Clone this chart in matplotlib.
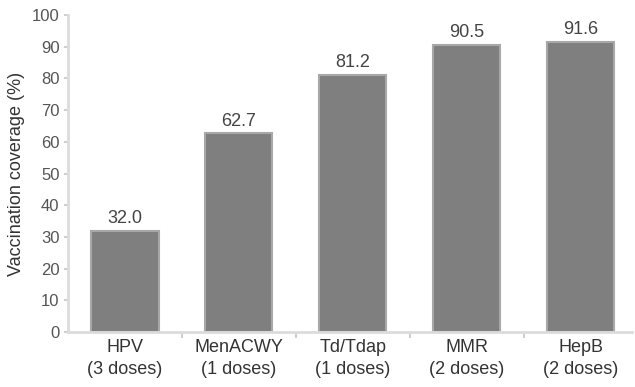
import matplotlib
matplotlib.use("Agg")
import matplotlib.pyplot as plt
import numpy as np

vaccines = ["HPV\n(3 doses)", "MenACWY\n(1 doses)", "Td/Tdap\n(1 doses)", "MMR\n(2 doses)", "HepB\n(2 doses)"]
coverage = [32.0, 62.7, 81.2, 90.5, 91.6]
y_ticks = [0, 10, 20, 30, 40, 50, 60, 70, 80, 90, 100]

plt.rcParams["font.family"] = ["Liberation Sans", "DejaVu Sans"]

fig = plt.figure(figsize=(6.35, 3.87), dpi=100)
ax = fig.add_axes([0.107, 0.142, 0.888, 0.819])

x = np.arange(len(vaccines))
bars = ax.bar(x, coverage, width=0.59, color="#7f7f80", edgecolor="#a8a8a8", linewidth=1.5, zorder=2)

for xi, v in zip(x, coverage):
    ax.text(xi, v + 1.2, f"{v:.1f}", ha="center", va="bottom", fontsize=13, color="#444444")

ax.set_xlim(-0.5, 4.45)
ax.set_ylim(0, 100)
ax.set_yticks(y_ticks)
ax.set_xticks(x)
ax.set_xticklabels(vaccines, fontsize=13, color="#333333", linespacing=1.4)
ax.set_xticks(x[:-1] + 0.5, minor=True)
ax.tick_params(axis="x", which="major", length=0, pad=5)
ax.tick_params(axis="x", which="minor", length=4, color="#d0d0d0", width=1.5)
ax.tick_params(axis="y", length=3, color="#d0d0d0", width=1.5, labelsize=12, labelcolor="#555555", pad=3)
ax.set_ylabel("Vaccination coverage (%)", fontsize=13, color="#333333", labelpad=5)

for side in ["top", "right"]:
    ax.spines[side].set_visible(False)
for side in ["left", "bottom"]:
    ax.spines[side].set_color("#dcdcdc")
    ax.spines[side].set_linewidth(2)

fig.savefig("out.png", dpi=100)
